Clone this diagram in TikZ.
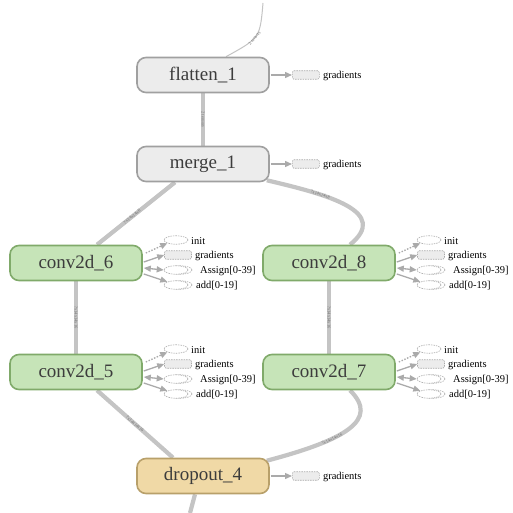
\documentclass[tikz,border=0pt]{standalone}
\usepackage{fontspec}
\setmainfont{Liberation Serif}
\usetikzlibrary{arrows.meta,shapes.geometric,backgrounds}
\definecolor{edgegray}{RGB}{196,196,196}
\definecolor{txt}{RGB}{60,60,60}
\definecolor{grayfill}{RGB}{236,236,236}
\definecolor{grayborder}{RGB}{160,160,160}
\definecolor{greenfill}{RGB}{198,228,184}
\definecolor{greenborder}{RGB}{128,170,106}
\definecolor{yelfill}{RGB}{240,217,166}
\definecolor{yelborder}{RGB}{184,160,106}
\definecolor{sidegray}{RGB}{170,170,170}
\tikzset{
  opbase/.style={rounded corners=9pt, minimum width=132pt, minimum height=35pt, line width=1.6pt, font=\fontsize{19}{20}\selectfont, text=txt, inner sep=0pt},
  opgray/.style={opbase, draw=grayborder, fill=grayfill},
  opgreen/.style={opbase, draw=greenborder, fill=greenfill},
  opyel/.style={opbase, draw=yelborder, fill=yelfill},
  flow/.style={line width=4.2pt, draw=edgegray},
  thinflow/.style={line width=1pt, draw=edgegray},
  elbl/.style={font=\fontsize{4.5}{5}\selectfont, text=black!55, sloped, inner sep=0pt},
  gradbox/.style={draw=sidegray, dash pattern=on 1.5pt off 1pt, fill=grayfill, rounded corners=1.5pt, minimum width=27pt, minimum height=8.5pt, inner sep=0pt, line width=0.6pt},
  sideell/.style={ellipse, draw=sidegray, dash pattern=on 1.5pt off 1pt, fill=white, minimum width=24pt, minimum height=8.5pt, inner sep=0pt, line width=0.6pt},
  sidetxt/.style={font=\fontsize{10.5}{11}\selectfont, text=black, anchor=west, inner sep=0pt},
  sidearr/.style={-{Triangle[length=7pt,width=6pt]}, draw=sidegray, line width=1.3pt},
  sidedbl/.style={{Triangle[length=7pt,width=6pt]}-{Triangle[length=7pt,width=6pt]}, draw=sidegray, line width=1.3pt},
  sidedot/.style={-{Triangle[length=7pt,width=6pt]}, draw=sidegray, line width=1.3pt, dash pattern=on 1.5pt off 1.5pt},
}
\newcommand{\convside}[3]{%
  \begin{scope}[shift={(#2,#3)}]
    \node[sideell] (#1init) at (100,-23) {};
    \node[sidetxt] (#1initl) at (115,-22) {init};
    \node[gradbox] (#1grad) at (102,-8) {};
    \node[sidetxt] (#1gradl) at (119,-7) {gradients};
    \node[sideell] (#1asgb) at (104,7) {};
    \node[sideell] (#1asg) at (100,7) {};
    \node[sidetxt] (#1asgl) at (124,8) {Assign[0-39]};
    \node[sideell] (#1addb) at (104,22) {};
    \node[sideell] (#1add) at (100,22) {};
    \node[sidetxt] (#1addl) at (120,23) {add[0-19]};
  \end{scope}
  \draw[sidedot] ([xshift=3pt,yshift=10pt]#1.east) -- (#1init.south west);
  \draw[sidearr] ([xshift=1pt,yshift=1pt]#1.east) -- (#1grad.west);
  \draw[sidedbl] ([xshift=1pt,yshift=-5pt]#1.east) -- (#1asg.west);
  \draw[sidearr] ([xshift=1pt,yshift=-11pt]#1.east) -- (#1add.north west);
}
\newcommand{\gradside}[1]{%
  \node[gradbox] (#1grad) at ([xshift=36pt]#1.east) {};
  \node[sidetxt] (#1gradl) at ([xshift=53pt,yshift=-1pt]#1.east) {gradients};
  \draw[sidearr] ([xshift=1pt]#1.east) -- (#1grad.west);
}
\begin{document}
\begin{tikzpicture}[x=1pt,y=-1pt]
\useasboundingbox (0,0) rectangle (512,513);
% main nodes
\node[opgray] (flatten) at (203,75) {flatten\_1};
\node[opgray] (merge) at (203,164) {merge\_1};
\node[opgreen] (conv6) at (76,263) {conv2d\_6};
\node[opgreen] (conv8) at (329,263) {conv2d\_8};
\node[opgreen] (conv5) at (76,372) {conv2d\_5};
\node[opgreen] (conv7) at (329,372) {conv2d\_7};
\node[opyel] (drop) at (203,476) {dropout\_4};
\coordinate (inp) at (263,3);
\coordinate (outp) at (190,513);
% side nodes
\gradside{flatten}
\gradside{merge}
\gradside{drop}
\convside{conv6}{76}{263}
\convside{conv8}{329}{263}
\convside{conv5}{76}{372}
\convside{conv7}{329}{372}
% edges
\begin{scope}[on background layer]
\fill[white] (0,0) rectangle (512,513);
\draw[thinflow] (inp) .. controls (260,38) .. ([xshift=23pt]flatten.north) node[elbl, pos=0.55] {2 tensors};
\draw[flow] (flatten) -- (merge) node[elbl, midway] {2 tensors};
\draw[flow] ([xshift=-28pt]merge.south) -- ([xshift=21pt]conv6.north) node[elbl, pos=0.55] {?x14x14x8};
\draw[flow] ([xshift=-3pt,yshift=2pt]merge.south east) .. controls (330,195) and (390,212) .. ([xshift=21pt]conv8.north) node[elbl, pos=0.3] {?x14x14x8};
\draw[flow] (conv6) -- (conv5) node[elbl, midway] {?x14x14x16};
\draw[flow] (conv8) -- (conv7) node[elbl, midway] {?x14x14x16};
\draw[flow] ([xshift=21pt]conv5.south) -- ([xshift=-30pt]drop.north) node[elbl, pos=0.5] {?x14x14x16};
\draw[flow] ([xshift=21pt]conv7.south) .. controls (380,420) and (345,440) .. ([xshift=-3pt,yshift=-3pt]drop.north east) node[elbl, pos=0.65] {?x14x14x16};
\draw[flow] ([xshift=-8pt]drop.south) -- (outp);
\end{scope}
\end{tikzpicture}
\end{document}
